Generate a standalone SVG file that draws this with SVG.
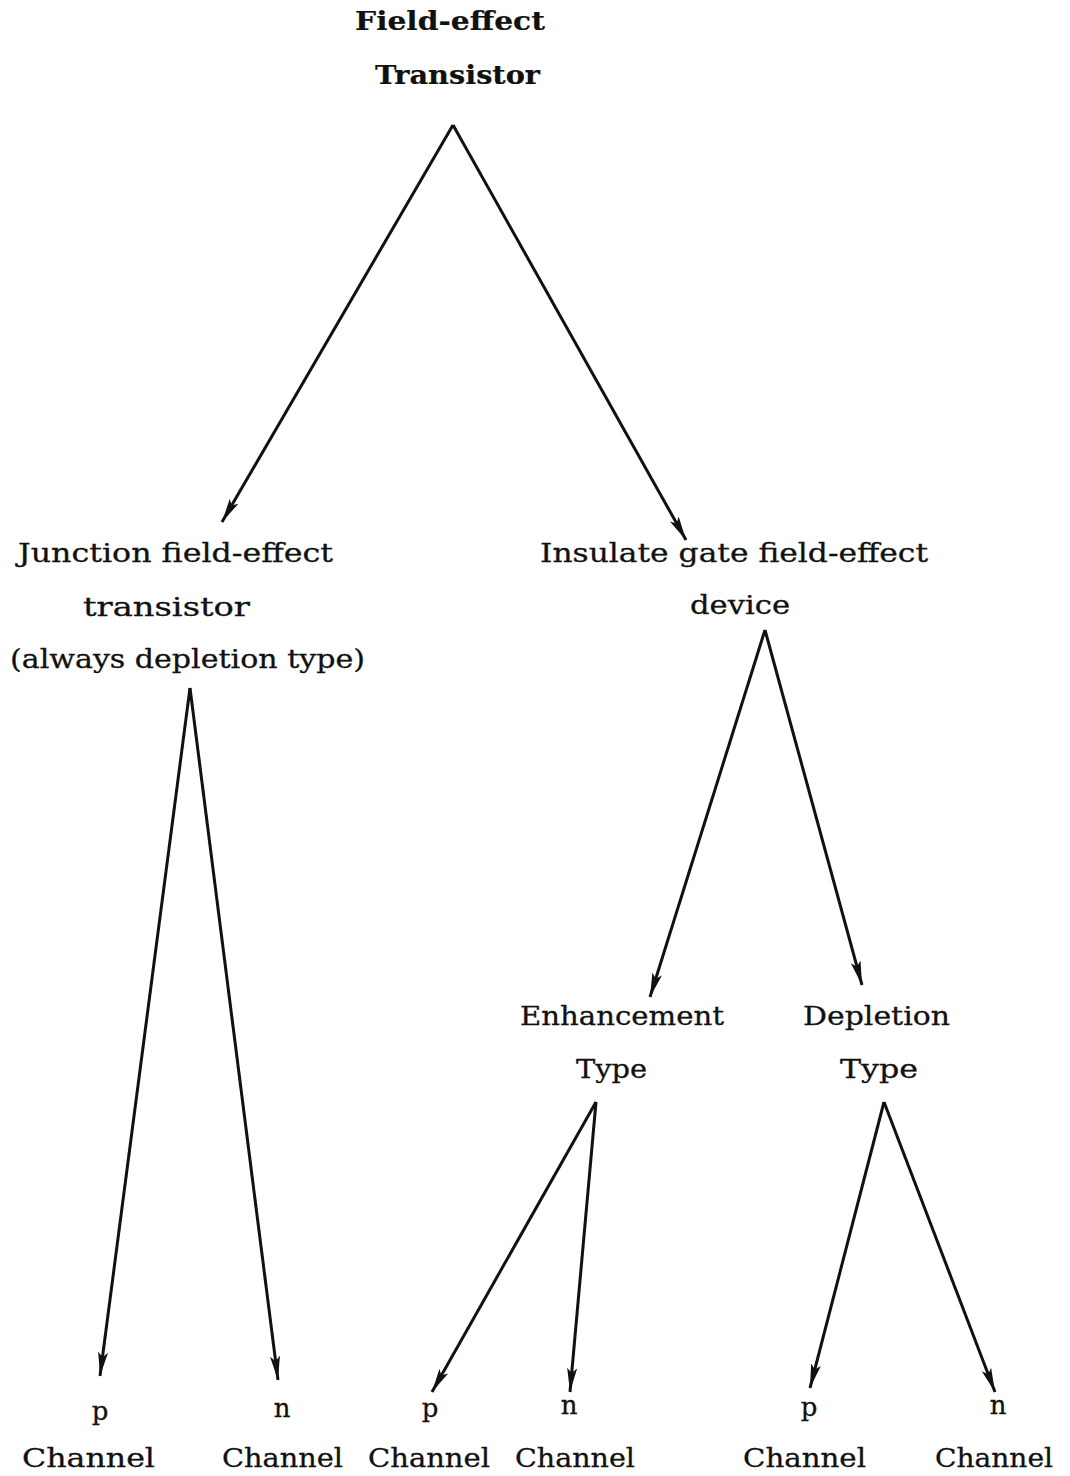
<svg xmlns="http://www.w3.org/2000/svg" width="1070" height="1476" viewBox="0 0 1070 1476">
<style>
text{font-family:"DejaVu Serif","Liberation Serif",serif;font-size:26px;fill:#111;stroke:#111;stroke-width:0.3}
.b{font-weight:bold;stroke-width:0.2}
.c line{stroke:#111;stroke-width:3;marker-end:url(#ah)}
</style>
<defs>
<marker id="ah" markerUnits="userSpaceOnUse" markerWidth="26" markerHeight="14" viewBox="0 0 26 14" refX="24" refY="7" orient="auto">
<path d="M0,2 L24,7 L0,12 L5,7 Z" fill="#111"/>
</marker>
</defs>
<rect width="1070" height="1476" fill="#fff"/>
<g id="n-fet"><text class="b" x="355" y="30" textLength="190" lengthAdjust="spacingAndGlyphs">Field-effect</text><text class="b" x="375" y="84" textLength="165" lengthAdjust="spacingAndGlyphs">Transistor</text></g>
<g id="n-jfet"><text x="18" y="562" textLength="315" lengthAdjust="spacingAndGlyphs">Junction field-effect</text><text x="83" y="616" textLength="167" lengthAdjust="spacingAndGlyphs">transistor</text><text x="10" y="668" textLength="355" lengthAdjust="spacingAndGlyphs">(always depletion type)</text></g>
<g id="n-igfet"><text x="540" y="562" textLength="388" lengthAdjust="spacingAndGlyphs">Insulate gate field-effect</text><text x="690" y="614" textLength="100" lengthAdjust="spacingAndGlyphs">device</text></g>
<g id="n-enh"><text x="520" y="1025" textLength="204" lengthAdjust="spacingAndGlyphs">Enhancement</text><text x="576" y="1078" textLength="71" lengthAdjust="spacingAndGlyphs">Type</text></g>
<g id="n-dep"><text x="803" y="1025" textLength="147" lengthAdjust="spacingAndGlyphs">Depletion</text><text x="840" y="1078" textLength="78" lengthAdjust="spacingAndGlyphs">Type</text></g>
<g id="n-jp"><text x="100" y="1420" text-anchor="middle">p</text><text x="22" y="1467" textLength="133" lengthAdjust="spacingAndGlyphs">Channel</text></g>
<g id="n-jn"><text x="282" y="1417" text-anchor="middle">n</text><text x="222" y="1467" textLength="121" lengthAdjust="spacingAndGlyphs">Channel</text></g>
<g id="n-ep"><text x="430" y="1417" text-anchor="middle">p</text><text x="368" y="1467" textLength="122" lengthAdjust="spacingAndGlyphs">Channel</text></g>
<g id="n-en"><text x="569" y="1414" text-anchor="middle">n</text><text x="515" y="1467" textLength="120" lengthAdjust="spacingAndGlyphs">Channel</text></g>
<g id="n-dp"><text x="809" y="1416" text-anchor="middle">p</text><text x="743" y="1467" textLength="123" lengthAdjust="spacingAndGlyphs">Channel</text></g>
<g id="n-dn"><text x="998" y="1414" text-anchor="middle">n</text><text x="935" y="1467" textLength="118" lengthAdjust="spacingAndGlyphs">Channel</text></g>
<g id="connectors" class="c">
<line x1="453" y1="125" x2="222" y2="522"/>
<line x1="453" y1="125" x2="686" y2="540"/>
<line x1="190" y1="688" x2="100" y2="1376"/>
<line x1="190" y1="688" x2="278" y2="1380"/>
<line x1="765" y1="630" x2="650" y2="997"/>
<line x1="765" y1="630" x2="862" y2="985"/>
<line x1="596" y1="1102" x2="432" y2="1392"/>
<line x1="596" y1="1102" x2="570" y2="1392"/>
<line x1="884" y1="1102" x2="810" y2="1388"/>
<line x1="884" y1="1102" x2="995" y2="1392"/>
</g>
</svg>
